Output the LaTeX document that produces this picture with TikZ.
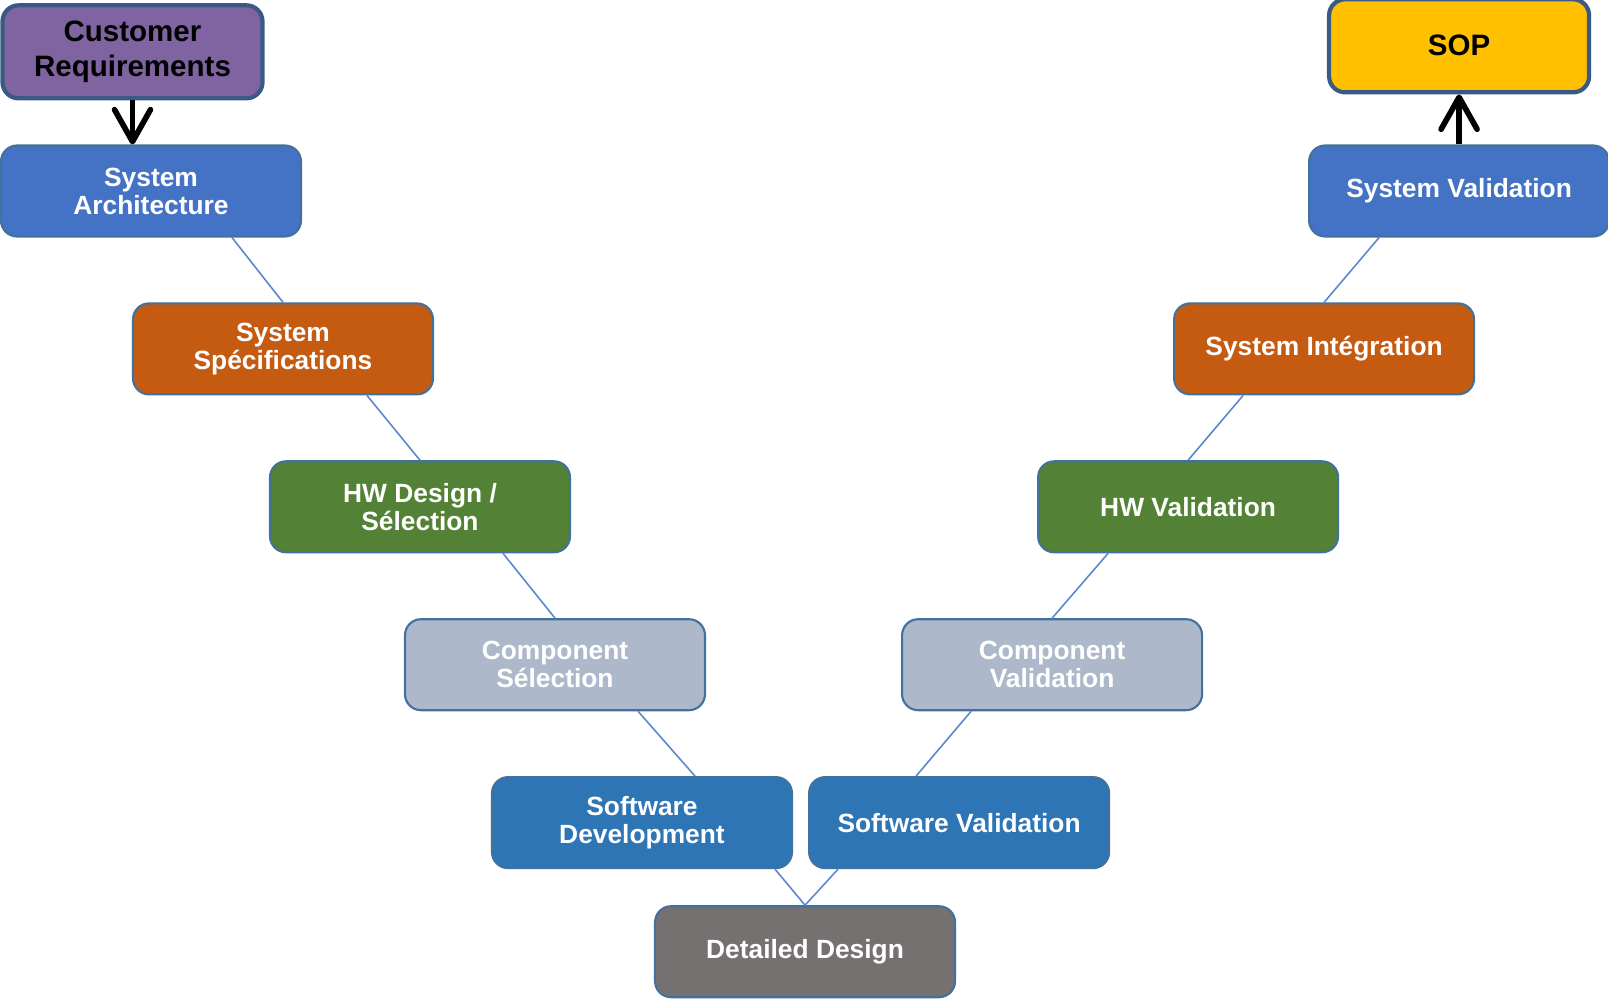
\documentclass[tikz,border=0pt]{standalone}
\usepackage{fontspec}
\setmainfont{Liberation Sans}
\usetikzlibrary{positioning,arrows.meta}

\definecolor{archblue}{HTML}{4472C4}
\definecolor{specorange}{HTML}{C55A11}
\definecolor{hwgreen}{HTML}{538135}
\definecolor{compgray}{HTML}{ADB9CA}
\definecolor{swblue}{HTML}{2E75B6}
\definecolor{ddgray}{HTML}{767171}
\definecolor{sopyellow}{HTML}{FFC000}
\definecolor{reqpurple}{HTML}{8064A2}
\definecolor{rimblue}{HTML}{41719C}
\definecolor{gaterim}{HTML}{3A5A85}
\definecolor{linkblue}{HTML}{5B86D0}

\begin{document}
\begin{tikzpicture}[x=0.1mm, y=-0.1mm, node distance=6.48mm,
  phase/.style={draw=rimblue, line width=0.6pt, rounded corners=1.6mm,
    minimum width=30mm, minimum height=9.1mm, align=center, text=white,
    font=\bfseries\fontsize{7.5}{8}\selectfont},
  gate/.style={draw=gaterim, line width=1.2pt, rounded corners=1.6mm,
    minimum width=26mm, minimum height=9.3mm, align=center, text=black,
    font=\bfseries\fontsize{8.4}{9.9}\selectfont},
  link/.style={draw=linkblue, line width=0.45pt},
  flow/.style={-{Straight Barb[length=3.2mm,width=3.6mm,round]}, line width=1.6pt}]
  \useasboundingbox (0,0) rectangle (1608,999);

  % left branch
  \node[phase, fill=archblue]   (SA) at (151,191)                   {System\\Architecture};
  \node[phase, fill=specorange] (SS) [below=of SA, xshift=13.2mm]  {System\\Spécifications};
  \node[phase, fill=hwgreen]    (HD) [below=of SS, xshift=13.7mm]  {HW Design /\\Sélection};
  \node[phase, fill=compgray]   (CS) [below=of HD, xshift=13.5mm]  {Component\\Sélection};
  \node[phase, fill=swblue]     (SD) [below=of CS, xshift=8.7mm]   {Software\\Development};

  % bottom
  \node[phase, fill=ddgray]     (DD) [below=3.6mm of SD.south east, xshift=1.2mm] {Detailed Design};

  % right branch
  \node[phase, fill=swblue]     (SV) [right=1.5mm of SD]           {Software Validation};
  \node[phase, fill=compgray]   (CV) [above=of SV, xshift=9.3mm]   {Component\\Validation};
  \node[phase, fill=hwgreen]    (HV) [above=of CV, xshift=13.6mm]  {HW Validation};
  \node[phase, fill=specorange] (SI) [above=of HV, xshift=13.6mm]  {System Intégration};
  \node[phase, fill=archblue]   (YV) [above=of SI, xshift=13.5mm]  {System Validation};

  % start and end
  \node[gate, fill=reqpurple]   (CR) [above=4.4mm of SA, xshift=-1.85mm] {Customer\\Requirements};
  \node[gate, fill=sopyellow]   (SOP) [above=5mm of YV]                  {SOP};

  \draw[link] ([xshift=8.1mm]SA.south)  -- (SS.north);
  \draw[link] ([xshift=8.4mm]SS.south)  -- (HD.north);
  \draw[link] ([xshift=8.3mm]HD.south)  -- (CS.north);
  \draw[link] ([xshift=8.3mm]CS.south)  -- ([xshift=5.3mm]SD.north);
  \draw[link] ([xshift=13.3mm]SD.south) -- (DD.north);
  \draw[link] ([xshift=-12.1mm]SV.south) -- (DD.north);
  \draw[link] ([xshift=-8.1mm]CV.south) -- ([xshift=-4.3mm]SV.north);
  \draw[link] ([xshift=-8mm]HV.south)   -- (CV.north);
  \draw[link] ([xshift=-8.1mm]SI.south) -- (HV.north);
  \draw[link] ([xshift=-8mm]YV.south)   -- (SI.north);

  \draw[flow] (CR.south) -- (CR.south |- SA.north);
  \draw[flow] (YV.north) -- (YV.north |- SOP.south);
\end{tikzpicture}
\end{document}
